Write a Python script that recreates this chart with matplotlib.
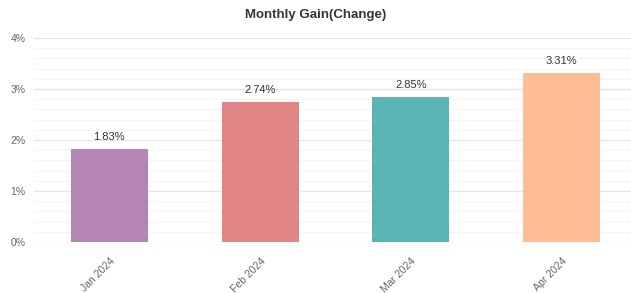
import matplotlib
matplotlib.use("Agg")
import matplotlib.pyplot as plt
import numpy as np
from matplotlib.ticker import MultipleLocator, FuncFormatter

months = ["Jan 2024", "Feb 2024", "Mar 2024", "Apr 2024"]
gains = [1.83, 2.74, 2.85, 3.31]
colors = ["#b585b3", "#e08584", "#5bb4b4", "#ffbd94"]

plt.rcParams['font.family'] = ['Liberation Sans', 'DejaVu Sans']

fig = plt.figure(figsize=(6.31, 2.93), dpi=100)
ax = fig.add_axes([34 / 631, 51 / 293, 597 / 631, 204 / 293])

x = np.arange(len(months))
ax.bar(x, gains, width=0.51, color=colors, zorder=3)

# value labels above bars
for xi, g in zip(x, gains):
    ax.annotate(f"{g:.2f}%", (xi, g), xytext=(0, 5), textcoords="offset points",
                ha="center", va="bottom", fontsize=8, color="#333333")

ax.set_xlim(-0.5, 3.46)
ax.set_ylim(0, 4)
ax.yaxis.set_major_locator(MultipleLocator(1))
ax.yaxis.set_minor_locator(MultipleLocator(0.2))
ax.yaxis.set_major_formatter(FuncFormatter(lambda v, p: f"{v:.0f}%"))
ax.grid(axis="y", which="major", color="#e6e6e6", linewidth=1, zorder=0)
ax.grid(axis="y", which="minor", color="#f4f4f4", linewidth=0.8, zorder=0)

ax.set_xticks(x)
ax.set_xticklabels(months, rotation=45, ha="right", rotation_mode="anchor")
ax.tick_params(axis="both", which="both", length=0, labelsize=7.5, labelcolor="#666666")
ax.tick_params(axis="x", pad=10)
ax.tick_params(axis="y", pad=6)
for s in ax.spines.values():
    s.set_visible(False)

fig.suptitle("Monthly Gain(Change)", y=0.97, fontsize=9.5, fontweight="bold", color="#333333")

fig.savefig("out.png", dpi=100)
